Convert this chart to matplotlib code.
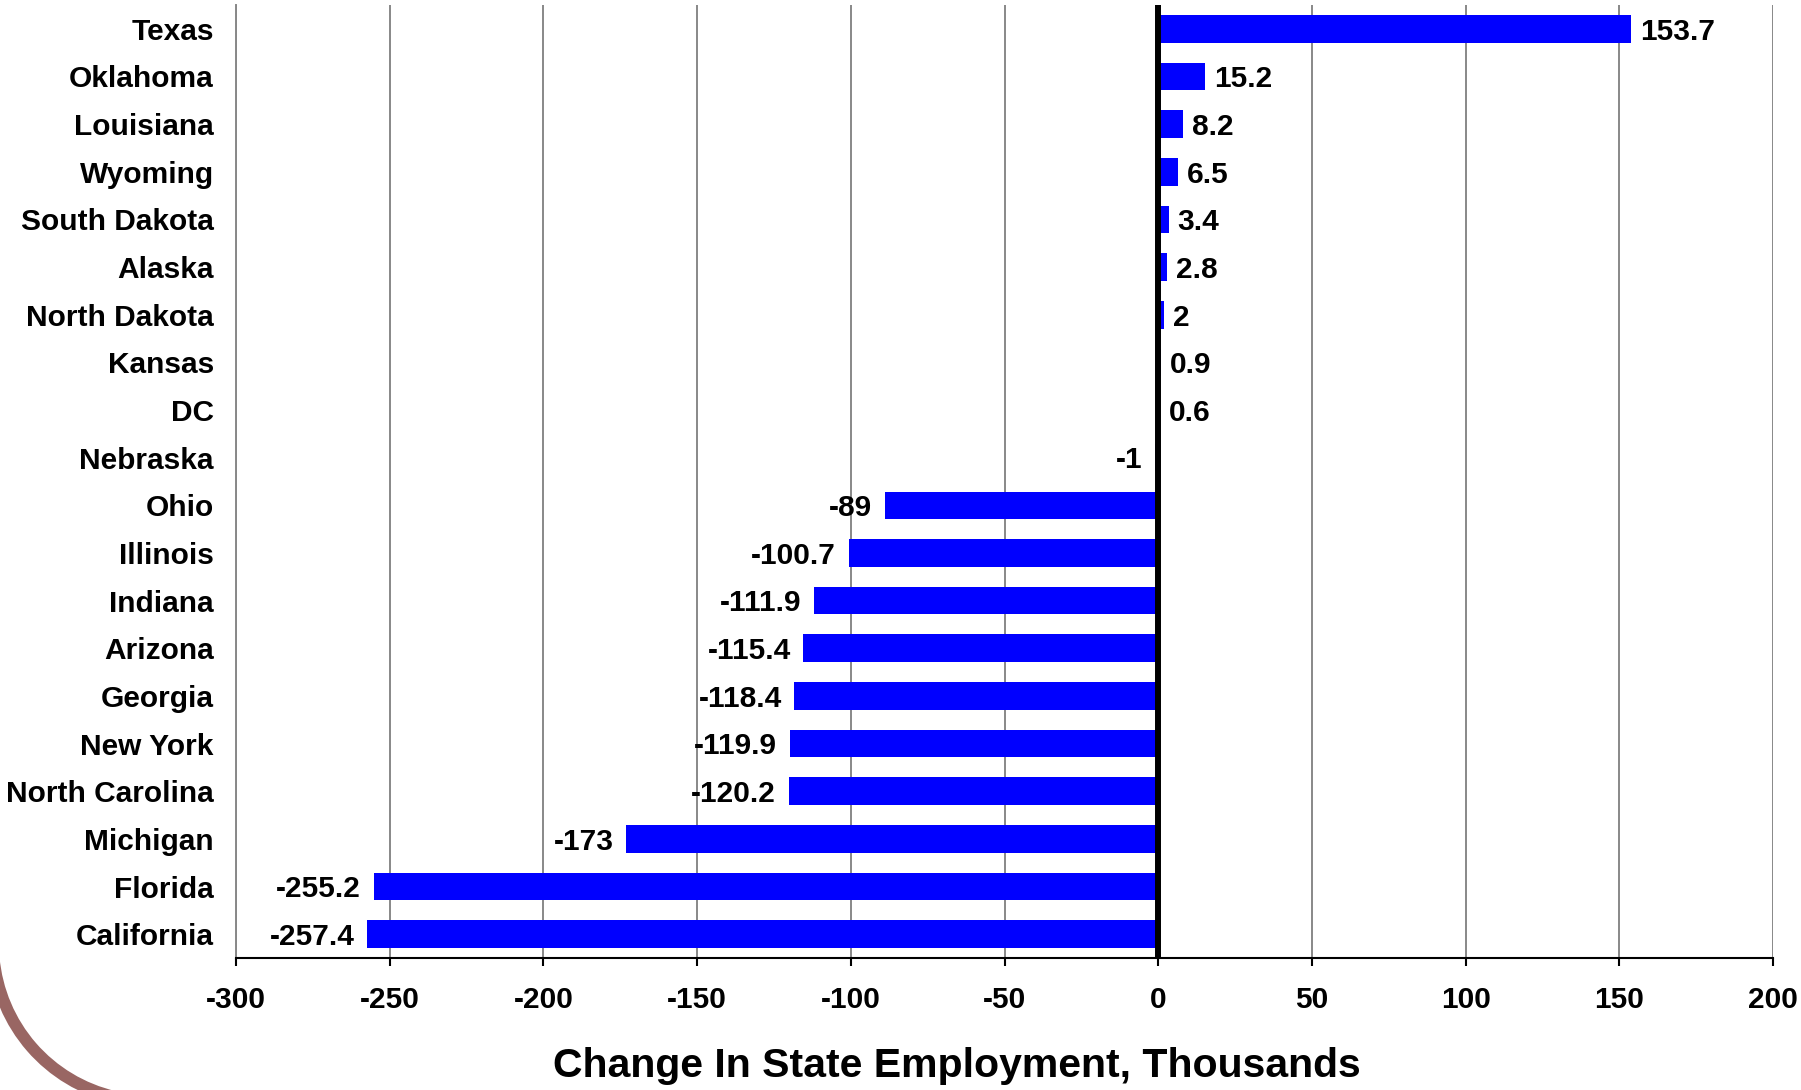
import matplotlib.pyplot as plt
from matplotlib.patches import Arc

# data
states = ['Texas', 'Oklahoma', 'Louisiana', 'Wyoming', 'South Dakota', 'Alaska',
          'North Dakota', 'Kansas', 'DC', 'Nebraska', 'Ohio', 'Illinois', 'Indiana',
          'Arizona', 'Georgia', 'New York', 'North Carolina', 'Michigan', 'Florida',
          'California']
changes = [153.7, 15.2, 8.2, 6.5, 3.4, 2.8, 2, 0.9, 0.6, -1, -89, -100.7, -111.9,
           -115.4, -118.4, -119.9, -120.2, -173, -255.2, -257.4]
xticks = [-300, -250, -200, -150, -100, -50, 0, 50, 100, 150, 200]
xlabel = 'Change In State Employment, Thousands'

plt.rcParams['font.family'] = ['Liberation Sans', 'DejaVu Sans']
plt.rcParams['font.weight'] = 'bold'

W, H = 1801, 1090
fig = plt.figure(figsize=(W / 100, H / 100), dpi=100)

# decorative arc (bottom-left corner), in pixel coords
bg = fig.add_axes([0, 0, 1, 1], zorder=-5)
bg.set_xlim(0, W)
bg.set_ylim(0, H)
bg.axis('off')
bg.patch.set_alpha(0)
bg.add_patch(Arc((150, H - 944), 314, 314, theta1=185, theta2=257,
                 color='#996663', lw=8.6))

ax = fig.add_axes([236 / W, 1 - 958 / H, (1773 - 236) / W, (958 - 5) / H])
ax.patch.set_alpha(0)

y = list(range(len(states)))
ax.barh(y, changes, height=0.58, color='#0000FF', zorder=2)
ax.axvline(0, color='black', lw=4.3, zorder=3)

for yi, v in zip(y, changes):
    if v >= 0:
        ax.annotate(f'{v:g}', (v, yi), xytext=(6.5, -2), textcoords='offset points',
                    ha='left', va='center', fontsize=21.5, fontweight='bold', zorder=4)
    else:
        ax.annotate(f'{v:g}', (v, yi), xytext=(-9, -2), textcoords='offset points',
                    ha='right', va='center', fontsize=21.5, fontweight='bold', zorder=4)

ax.set_xlim(-300, 200)
ax.set_ylim(len(states) - 0.5, -0.5)
ax.set_xticks(xticks)
ax.set_xticklabels([str(t) for t in xticks], fontsize=21.5, fontweight='bold')
ax.set_yticks(y)
ax.set_yticklabels(states, fontsize=21.5, fontweight='bold')

ax.grid(axis='x', color='#888888', lw=1.4, zorder=0)
ax.grid(axis='y', visible=False)
ax.set_axisbelow(True)

for s in ['top', 'right']:
    ax.spines[s].set_visible(False)
ax.spines['left'].set_color('#888888')
ax.spines['left'].set_linewidth(1.4)
ax.spines['bottom'].set_color('black')
ax.spines['bottom'].set_linewidth(1.5)
ax.tick_params(axis='x', direction='out', length=6, width=1.5, pad=14)
ax.tick_params(axis='y', length=0, pad=16)

fig.text(957 / W, 1 - 1077 / H, xlabel, ha='center', va='baseline',
         fontsize=29.5, fontweight='bold')

fig.savefig('out.png', dpi=100)
